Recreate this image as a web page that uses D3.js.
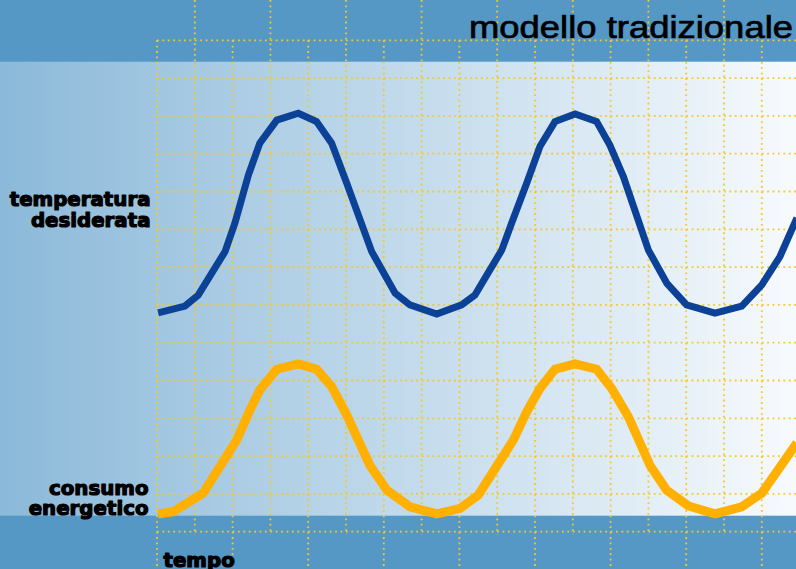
<!DOCTYPE html>
<html>
<head>
<meta charset="utf-8">
<script src="https://cdn.jsdelivr.net/npm/d3@7"></script>
<style>
html,body{margin:0;padding:0;background:#fff;}
svg{display:block;}
</style>
</head>
<body>
<div id="chart"></div>
<script>
// ---- data (grid units: time along x, level along y) ----
const tempTime  = [0.03,0.74,1.09,1.80,2.06,2.42,2.72,3.17,3.74,4.22,4.62,5.02,5.68,6.30,6.69,7.40,8.06,8.41,9.12,9.38,9.78,10.13,10.53,11.06,11.63,11.98,12.34,13.00,13.49,14.01,14.76,15.47,16.00,16.48,16.93];
const tempValue = [5.79,5.97,6.26,7.41,8.16,9.44,10.28,10.89,11.07,10.85,10.28,9.22,7.41,6.31,6.00,5.76,6.00,6.26,7.45,8.16,9.22,10.19,10.85,11.05,10.85,10.23,9.39,7.45,6.57,6.00,5.78,5.97,6.53,7.28,8.30];
const energyTime  = [0.03,0.43,1.22,2.11,2.46,2.72,3.17,3.74,4.22,4.62,5.02,5.63,6.08,6.69,7.40,8.02,8.50,9.43,9.78,10.13,10.53,11.06,11.63,12.03,12.47,13.04,13.48,14.06,14.76,15.47,16.00,16.93];
const energyValue = [0.47,0.53,1.02,2.43,3.22,3.75,4.30,4.44,4.30,3.84,3.09,1.76,1.10,0.66,0.47,0.62,0.97,2.43,3.17,3.79,4.30,4.44,4.30,3.79,3.04,1.76,1.10,0.68,0.47,0.66,1.02,2.35];
const gridCols = d3.range(0, 17);   // vertical grid lines
const gridRows = d3.range(0, 14);   // horizontal grid lines
const titleText = "modello tradizionale";
const tempLabel = ["temperatura", "desiderata"];
const energyLabel = ["consumo", "energetico"];
const timeLabel = "tempo";

// ---- layout ----
const W = 796, H = 569;
const svg = d3.select("#chart").append("svg").attr("width", W).attr("height", H);

const x = d3.scaleLinear().domain([0, 16]).range([157, 761.8]);
const y = d3.scaleLinear().domain([0, 13]).range([531.7, 40.3]);

const defs = svg.append("defs");
const grad = defs.append("linearGradient").attr("id", "bg").attr("x1", "0").attr("x2", "1").attr("y1", "0").attr("y2", "0");
grad.append("stop").attr("offset", "0").attr("stop-color", "#8bb9d9");
grad.append("stop").attr("offset", "1").attr("stop-color", "#f7fafd");

svg.append("rect").attr("x", 0).attr("y", 0).attr("width", W).attr("height", H).attr("fill", "url(#bg)");
svg.append("rect").attr("x", 0).attr("y", 0).attr("width", W).attr("height", 61.7).attr("fill", "#5598c6");
svg.append("rect").attr("x", 0).attr("y", 515.7).attr("width", W).attr("height", H - 515.7).attr("fill", "#5598c6");

// ---- grid ----
const grid = svg.append("g")
  .attr("stroke", "#f6c923")
  .attr("stroke-width", 1.8)
  .attr("stroke-dasharray", "1.8,3.6")
  .attr("fill", "none");

grid.selectAll("line.h").data(gridRows).join("line")
  .attr("class", "h")
  .attr("x1", x(0)).attr("x2", W)
  .attr("y1", d => y(d)).attr("y2", d => y(d));

grid.selectAll("line.v").data(gridCols).join("line")
  .attr("class", "v")
  .attr("x1", d => x(d)).attr("x2", d => x(d))
  .attr("y1", d => d % 2 === 1 ? 0 : y(13))
  .attr("y2", d => d % 2 === 0 ? H : y(0) + 3);

// ---- lines ----
const line = d3.line().x(d => x(d[0])).y(d => y(d[1]));

svg.append("path")
  .datum(energyTime.map((t, i) => [t, energyValue[i]]))
  .attr("d", line)
  .attr("fill", "none")
  .attr("stroke", "#ffb000")
  .attr("stroke-width", 9)
  .attr("stroke-linejoin", "miter");

svg.append("path")
  .datum(tempTime.map((t, i) => [t, tempValue[i]]))
  .attr("d", line)
  .attr("fill", "none")
  .attr("stroke", "#0b4196")
  .attr("stroke-width", 7)
  .attr("stroke-linejoin", "miter");

// ---- text ----
svg.append("text")
  .attr("x", 793).attr("y", 38)
  .attr("text-anchor", "end")
  .attr("font-family", "'Liberation Sans', Arial, sans-serif")
  .attr("font-size", 31)
  .attr("fill", "#000")
  .attr("stroke", "#000")
  .attr("stroke-width", 0.7)
  .attr("textLength", 324)
  .attr("lengthAdjust", "spacingAndGlyphs")
  .text(titleText);

const boldFont = "'DejaVu Sans', sans-serif";
function label(lines, xEnd, y0, dy) {
  svg.append("g").selectAll("text").data(lines).join("text")
    .attr("x", xEnd)
    .attr("y", (d, i) => y0 + i * dy)
    .attr("text-anchor", "end")
    .attr("font-family", boldFont)
    .attr("font-weight", "bold")
    .attr("font-size", 19.8)
    .attr("fill", "#000")
    .attr("stroke", "#000")
    .attr("stroke-width", 1.2)
    .attr("stroke-linejoin", "round")
    .text(d => d);
}
label(tempLabel, 150.5, 206, 20.5);
label(energyLabel, 148.5, 495, 19.5);

svg.append("text")
  .attr("x", 163.5).attr("y", 566.5)
  .attr("font-family", boldFont)
  .attr("font-weight", "bold")
  .attr("font-size", 19.8)
  .attr("fill", "#000")
  .attr("stroke", "#000")
  .attr("stroke-width", 1.2)
  .attr("stroke-linejoin", "round")
  .text(timeLabel);
</script>
</body>
</html>
